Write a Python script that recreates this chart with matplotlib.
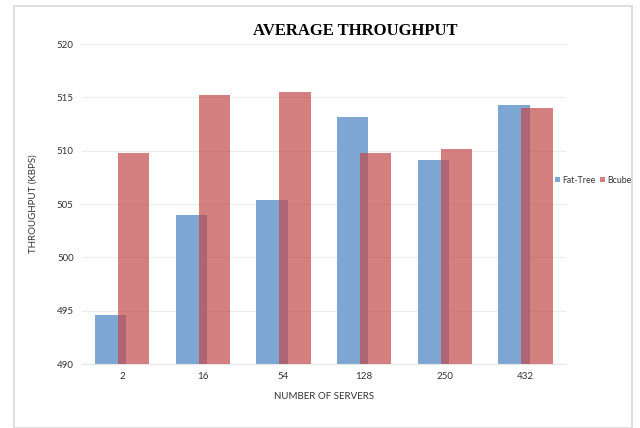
import numpy as np
import matplotlib.pyplot as plt
from matplotlib.patches import Rectangle

# Data
servers = ['2', '16', '54', '128', '250', '432']
fat_tree = [494.6, 504.0, 505.4, 513.2, 509.1, 514.3]
bcube = [509.8, 515.2, 515.5, 509.8, 510.2, 514.0]

plt.rcParams['font.family'] = ['Lato', 'DejaVu Sans']

fig = plt.figure(figsize=(6.4, 4.28), dpi=100)
ax = fig.add_axes([0.128, 0.1495, 0.756, 0.7475])

# light frame around the whole chart
fig.patches.append(Rectangle((14 / 640, 0.0), 618 / 640, 1 - 6 / 428,
                             transform=fig.transFigure, fill=False,
                             edgecolor='#d9d9d9', linewidth=1.2))

x = np.arange(len(servers))
off = 0.143
w = 0.39
ax.bar(x - off, np.array(fat_tree) - 490, w, bottom=490, color='#7ea6d3',
       label='Fat-Tree', zorder=2)
ax.bar(x + off, np.array(bcube) - 490, w, bottom=490, color=(0.76, 0.29, 0.29),
       alpha=0.7, label='Bcube', zorder=3)

ax.set_ylim(490, 520)
ax.set_xlim(-0.5, len(servers) - 0.5)
ax.set_yticks(np.arange(490, 521, 5))
ax.set_xticks(x)
ax.set_xticklabels(servers)
ax.tick_params(length=0, labelsize=7, colors='#333333', pad=6)
ax.grid(axis='y', color='#ececec', linewidth=0.8, zorder=0)
for s in ['top', 'right', 'left']:
    ax.spines[s].set_visible(False)
ax.spines['bottom'].set_color('#e6e6e6')

ax.set_xlabel('NUMBER OF SERVERS', fontsize=7, color='#333333', labelpad=8)
ax.set_ylabel('THROUGHPUT (KBPS)', fontsize=7, color='#333333', labelpad=14)

fig.text(0.555, 0.927, 'AVERAGE THROUGHPUT', ha='center', va='center',
         fontsize=12, fontweight='bold', family='Liberation Serif')

ax.legend(loc='center left', bbox_to_anchor=(0.97, 0.575), ncol=2, frameon=False,
          fontsize=6.3, handlelength=0.55, handleheight=0.55, handletextpad=0.3,
          columnspacing=0.55, borderaxespad=0.0, labelcolor='#333333')

fig.savefig('out.png', dpi=100, facecolor='white')
